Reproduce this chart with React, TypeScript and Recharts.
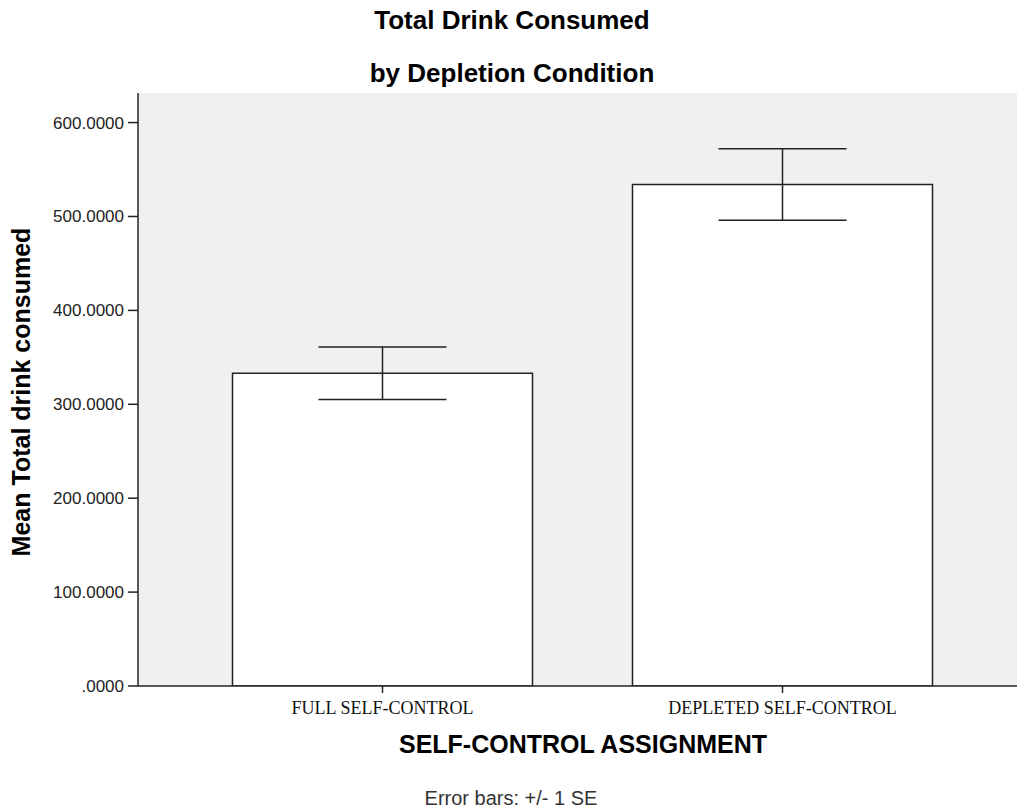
import { Bar, BarChart, CartesianGrid, Customized, ErrorBar, XAxis, YAxis } from "recharts";

// SPSS bar chart: mean total drink consumed, +/- 1 SE
const conditions = ["FULL SELF-CONTROL", "DEPLETED SELF-CONTROL"];
const meanDrink = [333, 534];
const seLower = [305, 496];
const seUpper = [361, 572];
const yTicks = [0, 100, 200, 300, 400, 500, 600];

const data = conditions.map((name, i) => ({
  name,
  mean: meanDrink[i],
  se: [meanDrink[i] - seLower[i], seUpper[i] - meanDrink[i]],
}));

const sans = "Liberation Sans, Arial, sans-serif";
const serif = "Liberation Serif, Times New Roman, serif";
const ink = "#222";

const fmt = (v: number) => (v === 0 ? ".0000" : v.toFixed(4));

function YTick({ x, y, payload }: any) {
  return (
    <text x={x} y={y} dy={6} textAnchor="end" fontSize={17} fontFamily={sans} fill="#222">
      {fmt(payload.value)}
    </text>
  );
}

function XTick({ x, y, payload }: any) {
  return (
    <text x={x} y={y} dy={19} textAnchor="middle" fontSize={18} fontFamily={serif} fill="#111">
      {payload.value}
    </text>
  );
}

function Texts() {
  return (
    <g fontFamily={sans} fill="#000">
      <text x={512} y={29} textAnchor="middle" fontSize={26} fontWeight="bold">
        Total Drink Consumed
      </text>
      <text x={512} y={82} textAnchor="middle" fontSize={26} fontWeight="bold">
        by Depletion Condition
      </text>
      <text x={583} y={753} textAnchor="middle" fontSize={25} fontWeight="bold">
        SELF-CONTROL ASSIGNMENT
      </text>
      <text
        x={30}
        y={392}
        transform="rotate(-90 30 392)"
        textAnchor="middle"
        fontSize={25}
        fontWeight="bold"
      >
        Mean Total drink consumed
      </text>
      <text x={511} y={805} textAnchor="middle" fontSize={20} fill="#333">
        Error bars: +/- 1 SE
      </text>
    </g>
  );
}

export default function App() {
  return (
    <div style={{ position: "absolute", left: 0, top: 0, width: 1017, height: 810, overflow: "hidden", background: "#fff" }}>
      <BarChart
        width={1027}
        height={810}
        data={data}
        margin={{ top: 93, right: 0, bottom: 84, left: 0 }}
        barCategoryGap={0}
      >
        <CartesianGrid fill="#f0f0f0" horizontal={false} vertical={false} stroke="none" />
        <XAxis
          dataKey="name"
          height={40}
          padding={{ left: 44.5, right: 44.5 }}
          stroke={ink}
          strokeWidth={1.5}
          tickSize={7}
          tickMargin={2}
          tick={<XTick />}
        />
        <XAxis
          xAxisId="frame"
          orientation="top"
          dataKey="name"
          height={0}
          tick={false}
          tickLine={false}
          stroke={ink}
          strokeWidth={1.5}
        />
        <YAxis
          width={138}
          domain={[0, 631.5]}
          ticks={yTicks}
          stroke={ink}
          strokeWidth={1.5}
          tickSize={10}
          tickMargin={4}
          tick={<YTick />}
          allowDataOverflow
        />
        <Bar dataKey="mean" fill="#fff" stroke={ink} strokeWidth={1.5} barSize={300} isAnimationActive={false}>
          <ErrorBar dataKey="se" width={64} stroke={ink} strokeWidth={1.5} />
        </Bar>
        <Customized component={Texts} />
      </BarChart>
    </div>
  );
}
